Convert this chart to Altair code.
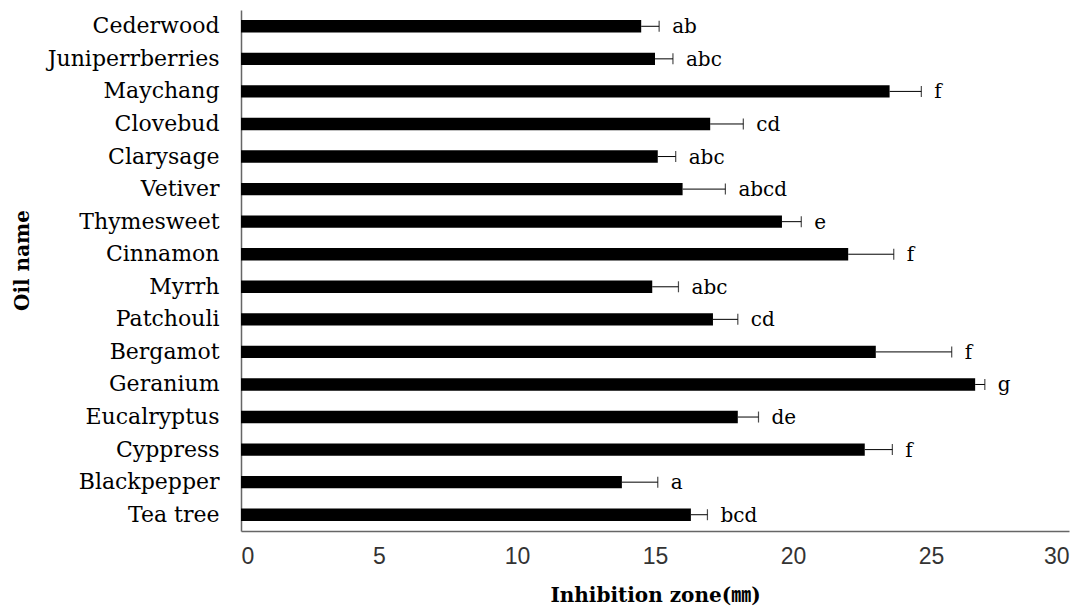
import altair as alt
import pandas as pd

oils = ["Cederwood", "Juniperrberries", "Maychang", "Clovebud", "Clarysage", "Vetiver",
        "Thymesweet", "Cinnamon", "Myrrh", "Patchouli", "Bergamot", "Geranium",
        "Eucalryptus", "Cyppress", "Blackpepper", "Tea tree"]
means = [14.5, 15.0, 23.5, 17.0, 15.1, 16.0, 19.6, 22.0, 14.9, 17.1, 23.0, 26.6,
         18.0, 22.6, 13.8, 16.3]
errs = [0.65, 0.65, 1.15, 1.2, 0.65, 1.55, 0.7, 1.65, 0.95, 0.9, 2.75, 0.35,
        0.75, 1.0, 1.3, 0.6]
letters = ["ab", "abc", "f", "cd", "abc", "abcd", "e", "f", "abc", "cd", "f", "g",
           "de", "f", "a", "bcd"]
x_ticks = [0, 5, 10, 15, 20, 25, 30]

df = pd.DataFrame({"oil": oils, "mean": means, "err": errs, "letter": letters})

SERIF = "'DejaVu Serif', 'Liberation Serif', 'Noto Sans CJK KR', serif"
NARROW = "'Liberation Sans Narrow', 'Liberation Sans', sans-serif"

base = alt.Chart(df).transform_calculate(hi="datum.mean + datum.err")

y = alt.Y(
    "oil:N",
    sort=oils,
    scale=alt.Scale(paddingInner=0.62, paddingOuter=0.31),
    axis=alt.Axis(
        title="Oil name",
        titleFont=SERIF,
        titleFontSize=20,
        titleFontWeight="bold",
        titleColor="black",
        titleX=-219,
        titleY=250,
        titleAngle=270,
        titleBaseline="middle",
        titleAlign="center",
        labelFont=SERIF,
        labelFontSize=22,
        labelColor="black",
        labelPadding=22,
        ticks=False,
        domainColor="#666666",
        domainWidth=1.5,
    ),
)

x_scale = alt.Scale(domain=[0, 30], nice=False)

bars = base.mark_bar(color="black").encode(
    x=alt.X(
        "mean:Q",
        scale=x_scale,
        axis=alt.Axis(
            title="Inhibition zone(㎜)",
            titleFont=SERIF,
            titleFontSize=20,
            titleFontWeight="bold",
            titleColor="black",
            titlePadding=17,
            values=x_ticks,
            labelFont=NARROW,
            labelFontSize=23,
            labelColor="#333333",
            labelPadding=14,
            ticks=False,
            grid=False,
            domainColor="#666666",
            domainWidth=1.5,
        ),
    ),
    y=y,
)

rule = base.mark_rule(color="black", strokeWidth=1).encode(
    x=alt.X("mean:Q", scale=x_scale), x2="hi:Q", y=y
)

cap = base.mark_tick(color="black", thickness=1.2, size=11, orient="vertical").encode(
    x=alt.X("hi:Q", scale=x_scale), y=y
)

text = base.mark_text(
    align="left", baseline="middle", dx=13, dy=1, font=SERIF, fontSize=20, color="black"
).encode(x=alt.X("hi:Q", scale=x_scale), y=y, text="letter:N")

chart = (
    alt.layer(bars, rule, cap, text)
    .properties(
        width=828,
        height=521,
        padding={"left": 233, "top": 2, "right": 11, "bottom": 78},
        autosize="none",
        background="white",
    )
    .configure_view(stroke=None)
)

chart.save("out.html", embed_options={"renderer": "svg", "actions": False})
